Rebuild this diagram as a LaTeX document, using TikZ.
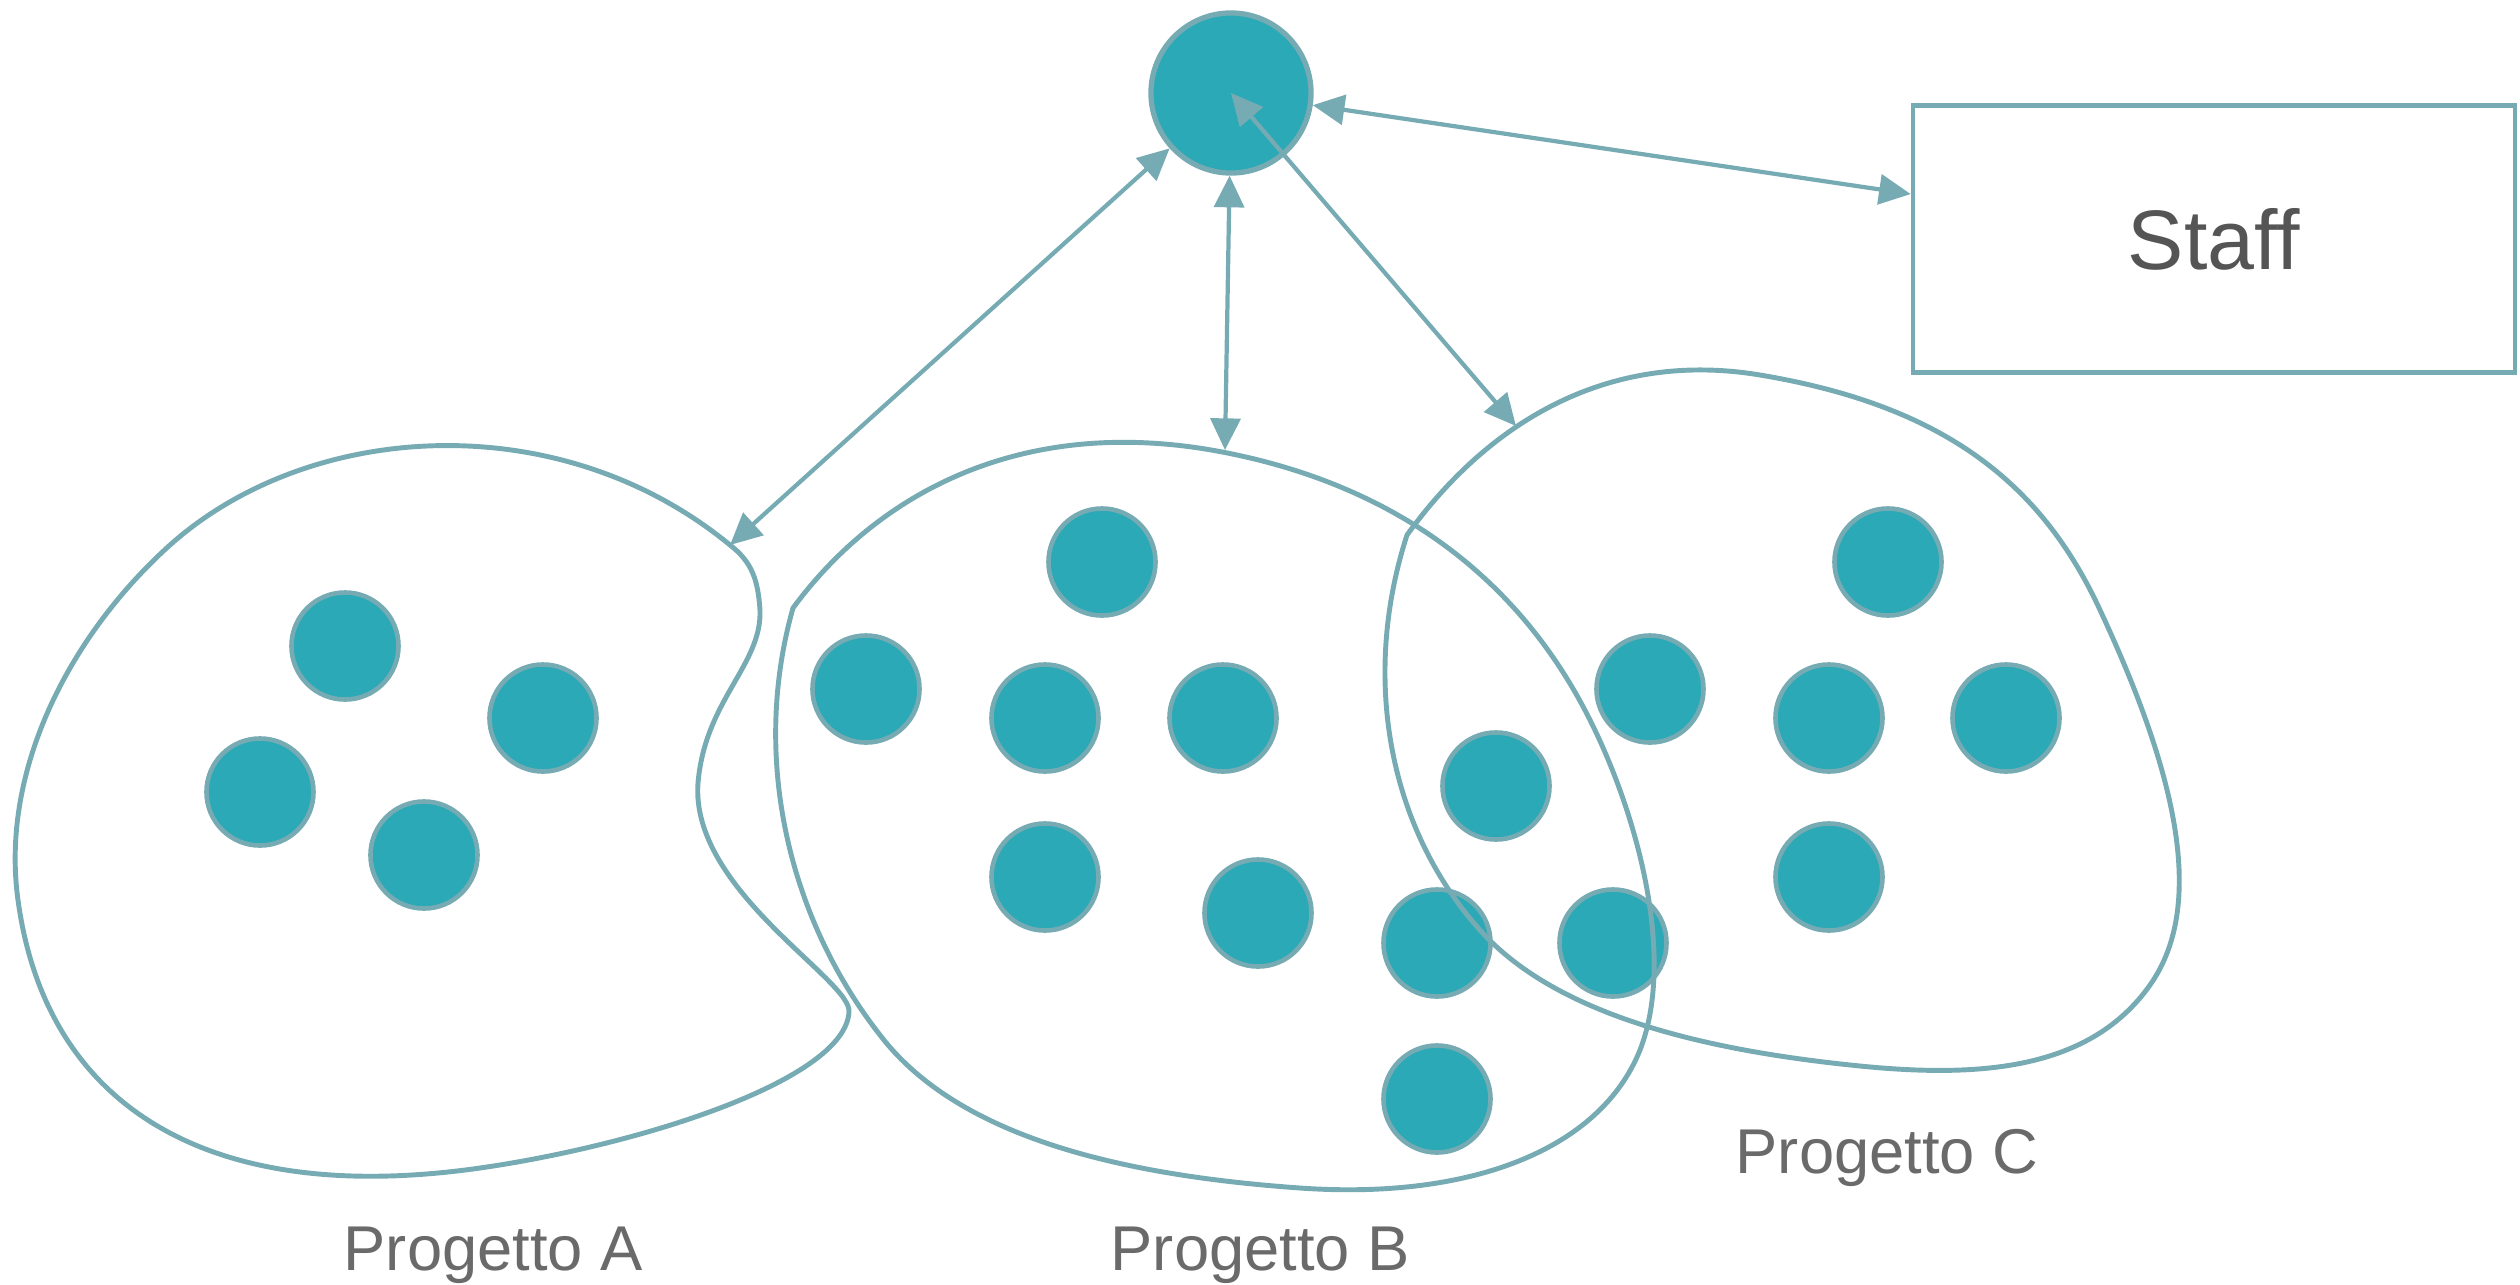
\documentclass[tikz,border=0pt]{standalone}
\usepackage{fontspec}
\setmainfont{Liberation Sans}
\usetikzlibrary{arrows.meta}
\definecolor{memberfill}{HTML}{2BA9B6}
\definecolor{edgeline}{HTML}{77ABB4}
\definecolor{nametext}{HTML}{6A6A6A}
\definecolor{stafftext}{HTML}{555555}
\tikzset{
  member/.style={circle, draw=edgeline, line width=1.3pt, fill=memberfill,
    minimum size=1.07cm, inner sep=0pt},
  blob/.style={draw=edgeline, line width=1.4pt},
  projname/.style={text=nametext, font=\fontsize{18pt}{22pt}\selectfont,
    anchor=base west, inner sep=0pt},
  link/.style={draw=edgeline, line width=1.2pt,
    {Triangle[length=9pt,width=8.5pt]}-{Triangle[length=9pt,width=8.5pt]}}
}
\begin{document}
\begin{tikzpicture}[x=0.01cm, y=-0.01cm]
  \useasboundingbox (0,0) rectangle (2520,1284);
  % members
  \draw
    (345,646) node[member] (a1){}
    (543,718) node[member] (a2){}
    (260,792) node[member] (a3){}
    (424,855) node[member] (a4){}
    (1102,562) node[member] (b1){}
    (866,689) node[member] (b2){}
    (1045,718) node[member] (b3){}
    (1223,718) node[member] (b4){}
    (1045,877) node[member] (b5){}
    (1258,913) node[member] (b6){}
    (1437,943) node[member] (b7){}
    (1437,1099) node[member] (b8){}
    (1496,786) node[member] (o1){}
    (1613,943) node[member] (o2){}
    (1888,562) node[member] (c1){}
    (1650,689) node[member] (c2){}
    (1829,718) node[member] (c3){}
    (2006,718) node[member] (c4){}
    (1829,877) node[member] (c5){};
  \node[member, minimum size=1.6cm, line width=1.5pt] (hub) at (1231,93) {};
  \node[draw=edgeline, line width=1.2pt, minimum width=6.02cm, minimum height=2.67cm,
    inner sep=0pt, text=stafftext, font=\fontsize{24pt}{28pt}\selectfont]
    (staff) at (2214,239) {Staff};
  % projects
  \draw[blob] (730,545) .. controls (560,405) and (310,420) .. (170,545)
    .. controls (70,635) and (0,770) .. (18,900)
    .. controls (45,1100) and (200,1208) .. (480,1168)
    .. controls (640,1145) and (845,1080) .. (849,1012)
    .. controls (852,980) and (690,890) .. (698,783)
    .. controls (705,700) and (762,665) .. (760,610)
    .. controls (758,580) and (752,562) .. cycle;
  \draw[blob] (793,608) .. controls (880,490) and (1030,410) .. (1237,455)
    .. controls (1400,490) and (1520,580) .. (1590,720)
    .. controls (1640,820) and (1675,960) .. (1640,1050)
    .. controls (1600,1150) and (1470,1200) .. (1300,1188)
    .. controls (1130,1176) and (960,1140) .. (880,1035)
    .. controls (790,920) and (750,760) .. cycle;
  \draw[blob] (1407,535) .. controls (1490,420) and (1610,350) .. (1760,375)
    .. controls (1940,405) and (2040,480) .. (2100,610)
    .. controls (2170,760) and (2210,900) .. (2150,985)
    .. controls (2090,1070) and (1980,1078) .. (1860,1066)
    .. controls (1720,1052) and (1560,1020) .. (1480,930)
    .. controls (1390,830) and (1360,680) .. cycle;
  \coordinate (tipA) at (730,545);
  \coordinate (tipB) at (1225,450);
  \coordinate (tipC) at (1516,426);
  \node[projname] (labA) at (343,1270) {Progetto A};
  \node[projname] (labB) at (1110,1270) {Progetto B};
  \node[projname] (labC) at (1735,1173) {Progetto C};
  \begin{scope}[link]
    \draw (hub) to (staff);
    \draw (hub) to (tipA);
    \draw (hub) to (tipB);
    \draw (hub.center) to (tipC);
  \end{scope}
\end{tikzpicture}
\end{document}
